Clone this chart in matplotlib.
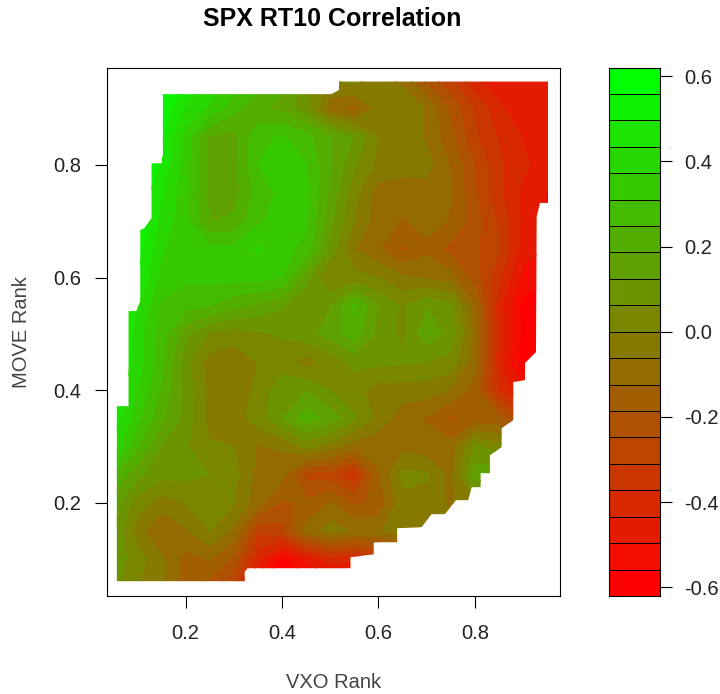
import matplotlib
matplotlib.use("Agg")
import matplotlib.pyplot as plt
from matplotlib.path import Path
from matplotlib.colors import ListedColormap, BoundaryNorm
import numpy as np

plt.rcParams["font.family"] = ["Liberation Sans", "DejaVu Sans"]

vxo_rank = [0.05, 0.10, 0.15, 0.20, 0.25, 0.30, 0.35, 0.40, 0.45, 0.50,
            0.55, 0.60, 0.65, 0.70, 0.75, 0.80, 0.85, 0.90, 0.95]
move_rank = [0.95, 0.90, 0.85, 0.80, 0.75, 0.70, 0.65, 0.60, 0.55, 0.50,
             0.45, 0.40, 0.35, 0.30, 0.25, 0.20, 0.15, 0.10, 0.05]

# one row per move_rank (cells outside the outline are only there for the contouring)
corr = [
    [.60, .60, .57, .52, .42, .34, .28, .20, .08, .00, .02, -.03, -.08, -.20, -.30, -.42, -.47, -.47, -.47],
    [.60, .60, .55, .42, .36, .27, .20, .17, .08, -.10, -.15, -.03, .00, -.07, -.20, -.32, -.42, -.47, -.47],
    [.60, .58, .50, .35, .17, .17, .29, .32, .27, .19, .12, .00, -.03, -.07, -.17, -.30, -.38, -.44, -.47],
    [.60, .58, .48, .34, .17, .16, .31, .33, .31, .19, .07, -.02, -.03, -.04, -.13, -.25, -.36, -.42, -.47],
    [.60, .56, .44, .33, .17, .16, .27, .33, .33, .17, .02, -.09, -.10, -.09, -.12, -.24, -.36, -.45, -.50],
    [.60, .55, .41, .33, .18, .20, .30, .33, .32, .14, .00, -.10, -.13, -.10, -.13, -.22, -.32, -.45, -.50],
    [.60, .53, .38, .32, .33, .33, .38, .33, .29, .10, -.06, -.12, -.20, -.14, -.21, -.24, -.30, -.47, -.50],
    [.60, .50, .35, .32, .33, .33, .33, .31, .14, -.01, .02, .00, -.05, -.07, -.10, -.22, -.36, -.52, -.55],
    [.58, .44, .30, .27, .25, .20, .17, .13, .08, .12, .26, .12, .05, .12, .08, -.12, -.42, -.58, -.60],
    [.55, .40, .28, .14, .05, .03, .05, .07, .10, .15, .22, .10, .05, .17, .10, -.10, -.40, -.58, -.60],
    [.52, .40, .27, .08, -.03, -.05, .00, .03, -.03, .03, .08, .08, .07, .06, .04, -.10, -.42, -.60, -.60],
    [.50, .37, .24, .10, -.02, -.05, .02, .10, .12, .06, .02, -.03, -.03, -.03, -.07, -.15, -.38, -.50, -.50],
    [.47, .33, .20, .10, -.03, -.03, .03, .12, .22, .16, .07, -.02, -.10, -.13, -.20, -.17, -.17, -.30, -.30],
    [.42, .25, .12, .07, .01, .00, -.07, -.05, .02, -.03, -.10, -.11, -.08, -.10, -.10, .07, .02, .00, .00],
    [.25, .14, .08, .08, .06, .02, -.08, -.10, -.27, -.28, -.37, -.13, .02, .01, -.08, .15, .20, .10, .10],
    [.16, .03, -.03, .00, .03, .00, -.10, -.20, -.17, -.12, -.20, -.17, -.02, -.03, -.07, .00, .00, .00, .00],
    [.13, -.03, -.13, -.07, .00, -.08, -.30, -.27, -.10, -.03, -.07, -.07, -.02, .00, -.05, -.05, -.05, -.05, -.05],
    [.10, .03, -.05, -.15, -.12, -.20, -.42, -.58, -.48, -.41, -.42, -.35, -.30, -.30, -.30, -.30, -.30, -.30, -.30],
    [.08, .00, -.05, -.15, -.22, -.30, -.55, -.62, -.60, -.55, -.55, -.50, -.40, -.40, -.40, -.40, -.40, -.40, -.40],
]

# outline of the region that has data, clockwise from the top right
outline_x = [.9515, .9515, .935, .928, .9266, .9038, .9038, .8795, .8795, .8554, .8554, .8311, .8311,
             .8118, .8118, .7931, .786, .7605, .7377, .71, .6893, .6387, .6387, .59, .59, .5419, .5419,
             .3287, .3225, .3225, .0574, .0574, .0817, .0817, .0977, .106, .106, .1149, .1294, .1294,
             .1508, .1508, .1529, .1529, .5025, .5183, .5183]
outline_y = [.948, .7325, .7325, .708, .4678, .4482, .418, .4145, .347, .3327, .299, .2847, .2528,
             .2528, .2279, .2279, .2048, .2048, .18, .18, .1568, .155, .1302, .1302, .1088, .1035, .084,
             .084, .0774, .061, .061, .3718, .3718, .5406, .5406, .5571, .6845, .688, .7058, .803,
             .803, .8147, .8147, .9257, .9257, .9333, .948]

n_levels = 20
level_min = -0.62
level_max = 0.62
bar_ticks = [-0.6, -0.4, -0.2, 0.0, 0.2, 0.4, 0.6]
axis_ticks = [0.2, 0.4, 0.6, 0.8]

levels = np.linspace(level_min, level_max, n_levels + 1)
t = np.linspace(0, 1, n_levels)
colors = [(1 - i, i, 0) for i in t]
cmap = ListedColormap(colors)
norm = BoundaryNorm(levels, n_levels)

W, H = 720, 694
fig = plt.figure(figsize=(W / 100, H / 100), dpi=100)
ax = fig.add_axes([106.5 / W, 1 - 596 / H, 453.5 / W, 528.5 / H])
cax = fig.add_axes([609 / W, 1 - 596 / H, 51 / W, 528.5 / H])

cs = ax.contourf(vxo_rank, move_rank, np.array(corr), levels=levels, cmap=cmap, norm=norm, extend="both")
outline = Path(np.column_stack([outline_x + outline_x[:1], outline_y + outline_y[:1]]), closed=True)
cs.set_clip_path(outline, ax.transData)

ax.set_xlim(0.036, 0.9764)
ax.set_ylim(0.0347, 0.973)
ax.set_xticks(axis_ticks)
ax.set_yticks(axis_ticks)
ax.tick_params(length=8.5, width=0.8, labelsize=14.5, labelcolor="#222222")
ax.tick_params(axis="x", pad=12)
ax.tick_params(axis="y", pad=10)
ax.set_xlabel("VXO Rank", fontsize=14.5, color="#444444", va="center")
ax.set_ylabel("MOVE Rank", fontsize=14.5, color="#444444", va="center")
ax.xaxis.set_label_coords(0.5, -87 / 528.5)
ax.yaxis.set_label_coords(-84.5 / 453.5, 0.5)
fig.suptitle("SPX RT10 Correlation", x=332 / W, y=1 - 19 / H, va="center", fontsize=18, fontweight="bold")

cax.pcolormesh([0, 1], levels, np.array(t).reshape(-1, 1), cmap=cmap, edgecolors="black", linewidth=0.4)
cax.set_xticks([])
cax.yaxis.tick_right()
cax.set_yticks(bar_ticks)
cax.set_yticklabels(["%.1f" % v for v in bar_ticks])
cax.tick_params(length=8.5, width=0.8, labelsize=14.5, pad=9, labelcolor="#222222")

fig.savefig("out.png", dpi=100)
